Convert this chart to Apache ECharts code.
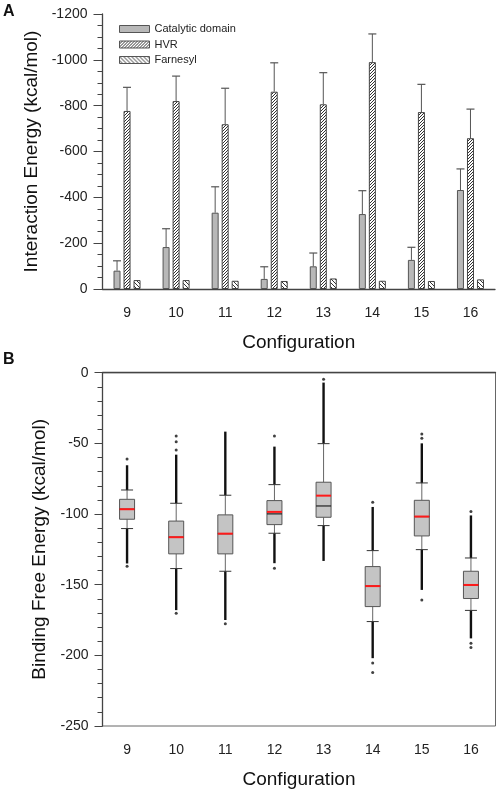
<!DOCTYPE html>
<html>
<head>
<meta charset="utf-8">
<script src="https://cdn.jsdelivr.net/npm/echarts@6/dist/echarts.min.js"></script>
<style>
html,body{margin:0;padding:0;background:#fff;}
#chart{width:498px;height:793px;}
</style>
</head>
<body>
<div id="chart"></div>
<script>
// ---------- Panel A data ----------
const categories = ['9', '10', '11', '12', '13', '14', '15', '16'];
const yTicksA = [-1200, -1000, -800, -600, -400, -200, 0];
const catalytic = [-80, -183, -333, -44, -99, -327, -127, -432];
const catalyticErr = [43, 80, 113, 53, 58, 102, 55, 92];
const hvr = [-777, -820, -719, -861, -806, -990, -772, -658];
const hvrErr = [103, 109, 157, 126, 138, 123, 121, 127];
const farnesyl = [-39, -39, -36, -35, -46, -36, -35, -42];

// ---------- Panel B data ----------
const yTicksB = [-250, -200, -150, -100, -50, 0];
const boxLowWhisker = [-110.3, -138.6, -140.5, -113.6, -108.2, -176.1, -125.2, -168.2];
const boxQ1 = [-103.7, -128.2, -128.2, -107.5, -102.3, -165.5, -115.5, -159.8];
const boxMedian = [-96.6, -116.4, -113.9, -99.9, -94.3, -151, -101.8, -150.2];
const boxQ3 = [-89.6, -105, -100.6, -90.5, -77.5, -137.2, -90.3, -140.5];
const boxHighWhisker = [-83, -92.4, -86.7, -79.2, -50.2, -125.9, -78, -131.1];
const boxMean = [-96.6, -116.4, -113.9, -98.5, -87, -151, -101.8, -150.2];
const outlierLowEnd = [-135, -168, -175, -134.8, -133.2, -202, -153.7, -188];
const outlierHighEnd = [-65.5, -58, -41.7, -52.3, -7, -95, -50, -101];
const outlierDots = [
  [0, -61], [0, -137],
  [1, -54.7], [1, -48.8], [1, -44.8], [1, -170.2],
  [2, -177.7],
  [3, -44.8], [3, -138.3],
  [4, -4.7],
  [5, -91.7], [5, -205.5], [5, -212.2],
  [6, -46.4], [6, -43.4], [6, -160.8],
  [7, -98.3], [7, -191.5], [7, -194.5]
];

// ---------- helpers ----------
function hatch(dir, period) {
  const c = document.createElement('canvas');
  c.width = period; c.height = period;
  const ctx = c.getContext('2d');
  ctx.fillStyle = '#fff';
  ctx.fillRect(0, 0, period, period);
  ctx.strokeStyle = '#333';
  ctx.lineWidth = 1;
  ctx.beginPath();
  if (dir === 'fwd') {
    ctx.moveTo(0, period); ctx.lineTo(period, 0);
    ctx.moveTo(-1, 1); ctx.lineTo(1, -1);
    ctx.moveTo(period - 1, period + 1); ctx.lineTo(period + 1, period - 1);
  } else {
    ctx.moveTo(0, 0); ctx.lineTo(period, period);
    ctx.moveTo(period - 1, -1); ctx.lineTo(period + 1, 1);
    ctx.moveTo(-1, period - 1); ctx.lineTo(1, period + 1);
  }
  ctx.stroke();
  return { image: c, repeat: 'repeat' };
}

const FONT = "'Liberation Sans', Arial, sans-serif";
const AX = '#444';
const chart = echarts.init(document.getElementById('chart'), null, { renderer: 'canvas' });

const boxData = categories.map((c, i) => [i, boxLowWhisker[i], boxQ1[i], boxMedian[i], boxQ3[i], boxHighWhisker[i], boxMean[i], outlierLowEnd[i], outlierHighEnd[i]]);
const errDataCat = categories.map((c, i) => [i, catalytic[i], catalytic[i] - catalyticErr[i]]);
const errDataHvr = categories.map((c, i) => [i, hvr[i], hvr[i] - hvrErr[i]]);

function errRender(offset) {
  return function (params, api) {
    const top = api.coord([api.value(0), api.value(1)]);
    const end = api.coord([api.value(0), api.value(2)]);
    const x = top[0] + offset;
    return {
      type: 'group',
      children: [
        { type: 'line', shape: { x1: x, y1: top[1], x2: x, y2: end[1] }, style: { stroke: '#555', lineWidth: 1 } },
        { type: 'line', shape: { x1: x - 4, y1: end[1], x2: x + 4, y2: end[1] }, style: { stroke: '#555', lineWidth: 1.2 } }
      ]
    };
  };
}

function boxRender(params, api) {
  const i = api.value(0);
  const p = v => api.coord([i, v]);
  const x = p(0)[0];
  const yLow = p(api.value(1))[1], yQ1 = p(api.value(2))[1], yMed = p(api.value(3))[1];
  const yQ3 = p(api.value(4))[1], yHigh = p(api.value(5))[1], yMean = p(api.value(6))[1];
  const yOutLow = p(api.value(7))[1], yOutHigh = p(api.value(8))[1];
  const hw = 7.5, cw = 6;
  return {
    type: 'group',
    children: [
      { type: 'line', shape: { x1: x, y1: yHigh, x2: x, y2: yOutHigh }, style: { stroke: '#111', lineWidth: 2.4 } },
      { type: 'line', shape: { x1: x, y1: yLow, x2: x, y2: yOutLow }, style: { stroke: '#111', lineWidth: 2.4 } },
      { type: 'line', shape: { x1: x, y1: yQ3, x2: x, y2: yHigh }, style: { stroke: '#666', lineWidth: 1 } },
      { type: 'line', shape: { x1: x, y1: yQ1, x2: x, y2: yLow }, style: { stroke: '#666', lineWidth: 1 } },
      { type: 'line', shape: { x1: x - cw, y1: yHigh, x2: x + cw, y2: yHigh }, style: { stroke: '#333', lineWidth: 1 } },
      { type: 'line', shape: { x1: x - cw, y1: yLow, x2: x + cw, y2: yLow }, style: { stroke: '#333', lineWidth: 1 } },
      { type: 'rect', shape: { x: x - hw, y: yQ3, width: 2 * hw, height: yQ1 - yQ3 }, style: { fill: '#c4c4c4', stroke: '#555', lineWidth: 1 } },
      { type: 'line', shape: { x1: x - hw, y1: yMed, x2: x + hw, y2: yMed }, style: { stroke: '#222', lineWidth: 1.2 } },
      { type: 'line', shape: { x1: x - hw, y1: yMean, x2: x + hw, y2: yMean }, style: { stroke: '#ff1a1a', lineWidth: 2 } }
    ]
  };
}

const axisLabelStyle = { color: '#222', fontSize: 14, fontFamily: FONT };

const option = {
  animation: false,
  backgroundColor: '#fff',
  textStyle: { fontFamily: FONT },
  graphic: [
    { type: 'text', left: 3, top: 4, style: { text: 'A', font: "bold 16px " + FONT, fill: '#111' } },
    { type: 'text', left: 3, top: 352, style: { text: 'B', font: "bold 16px " + FONT, fill: '#111' } }
  ],
  legend: {
    orient: 'vertical',
    left: 114,
    top: 18,
    itemWidth: 30,
    itemHeight: 7,
    itemGap: 3.5,
    icon: 'rect',
    data: ['Catalytic domain', 'HVR', 'Farnesyl'],
    textStyle: { fontSize: 11, fontFamily: FONT, color: '#222', lineHeight: 12, padding: [0, 0, 0, 0] },
    itemStyle: { borderColor: '#555', borderWidth: 1 }
  },
  grid: [
    { left: 102.5, right: 3, top: 14, height: 275 },
    { left: 102.5, right: 2.5, top: 372.7, height: 353.3, show: true, borderColor: '#666', borderWidth: 1, backgroundColor: 'transparent' }
  ],
  xAxis: [
    {
      gridIndex: 0, type: 'category', data: categories,
      name: 'Configuration', nameLocation: 'middle', nameGap: 44,
      nameTextStyle: { fontSize: 19, color: '#111', fontFamily: FONT },
      axisLine: { lineStyle: { color: AX, width: 1.3 } },
      axisTick: { alignWithLabel: true, length: 8, lineStyle: { color: AX } },
      axisLabel: Object.assign({ margin: 17 }, axisLabelStyle),
      splitLine: { show: false }
    },
    {
      gridIndex: 1, type: 'category', data: categories,
      name: 'Configuration', nameLocation: 'middle', nameGap: 44,
      nameTextStyle: { fontSize: 19, color: '#111', fontFamily: FONT },
      axisLine: { lineStyle: { color: AX, width: 1.3 } },
      axisTick: { alignWithLabel: true, length: 8, lineStyle: { color: AX } },
      axisLabel: Object.assign({ margin: 17 }, axisLabelStyle),
      splitLine: { show: false }
    }
  ],
  yAxis: [
    {
      gridIndex: 0, type: 'value', inverse: true, min: yTicksA[0], max: yTicksA[yTicksA.length - 1], interval: 200,
      name: 'Interaction Energy (kcal/mol)', nameLocation: 'middle', nameGap: 54,
      nameTextStyle: { fontSize: 19, color: '#111', fontFamily: FONT },
      axisLine: { show: true, lineStyle: { color: AX, width: 1.3 } },
      axisTick: { show: true, length: 9, lineStyle: { color: AX } },
      minorTick: { show: true, splitNumber: 4, length: 5, lineStyle: { color: AX } },
      axisLabel: Object.assign({ margin: 15, formatter: v => String(v) }, axisLabelStyle),
      splitLine: { show: false }, minorSplitLine: { show: false }
    },
    {
      gridIndex: 1, type: 'value', min: yTicksB[0], max: yTicksB[yTicksB.length - 1], interval: 50,
      name: 'Binding Free Energy (kcal/mol)', nameLocation: 'middle', nameGap: 46,
      nameTextStyle: { fontSize: 19, color: '#111', fontFamily: FONT },
      axisLine: { show: true, lineStyle: { color: AX, width: 1.3 } },
      axisTick: { show: true, length: 8, lineStyle: { color: AX } },
      minorTick: { show: true, splitNumber: 5, length: 5, lineStyle: { color: AX } },
      axisLabel: Object.assign({ margin: 14, formatter: v => String(v) }, axisLabelStyle),
      splitLine: { show: false }, minorSplitLine: { show: false }
    }
  ],
  series: [
    {
      name: 'Catalytic domain', type: 'bar', xAxisIndex: 0, yAxisIndex: 0, data: catalytic,
      barWidth: 7, barGap: '43%',
      itemStyle: { color: '#b8b8b8', borderColor: '#555', borderWidth: 1 }
    },
    {
      name: 'HVR', type: 'bar', xAxisIndex: 0, yAxisIndex: 0, data: hvr,
      barWidth: 7, barGap: '43%',
      itemStyle: { color: hatch('fwd', 3), borderColor: '#444', borderWidth: 1 }
    },
    {
      name: 'Farnesyl', type: 'bar', xAxisIndex: 0, yAxisIndex: 0, data: farnesyl,
      barWidth: 7, barGap: '43%',
      itemStyle: { color: hatch('back', 4), borderColor: '#444', borderWidth: 1 }
    },
    {
      type: 'custom', xAxisIndex: 0, yAxisIndex: 0, data: errDataCat, renderItem: errRender(-10), z: 5, silent: true
    },
    {
      type: 'custom', xAxisIndex: 0, yAxisIndex: 0, data: errDataHvr, renderItem: errRender(0), z: 5, silent: true
    },
    {
      type: 'custom', xAxisIndex: 1, yAxisIndex: 1, data: boxData, renderItem: boxRender, z: 3, silent: true
    },
    {
      type: 'scatter', xAxisIndex: 1, yAxisIndex: 1, data: outlierDots, symbol: 'circle', symbolSize: 3,
      itemStyle: { color: '#111' }, z: 4, silent: true
    }
  ]
};
chart.setOption(option);
</script>
</body>
</html>
